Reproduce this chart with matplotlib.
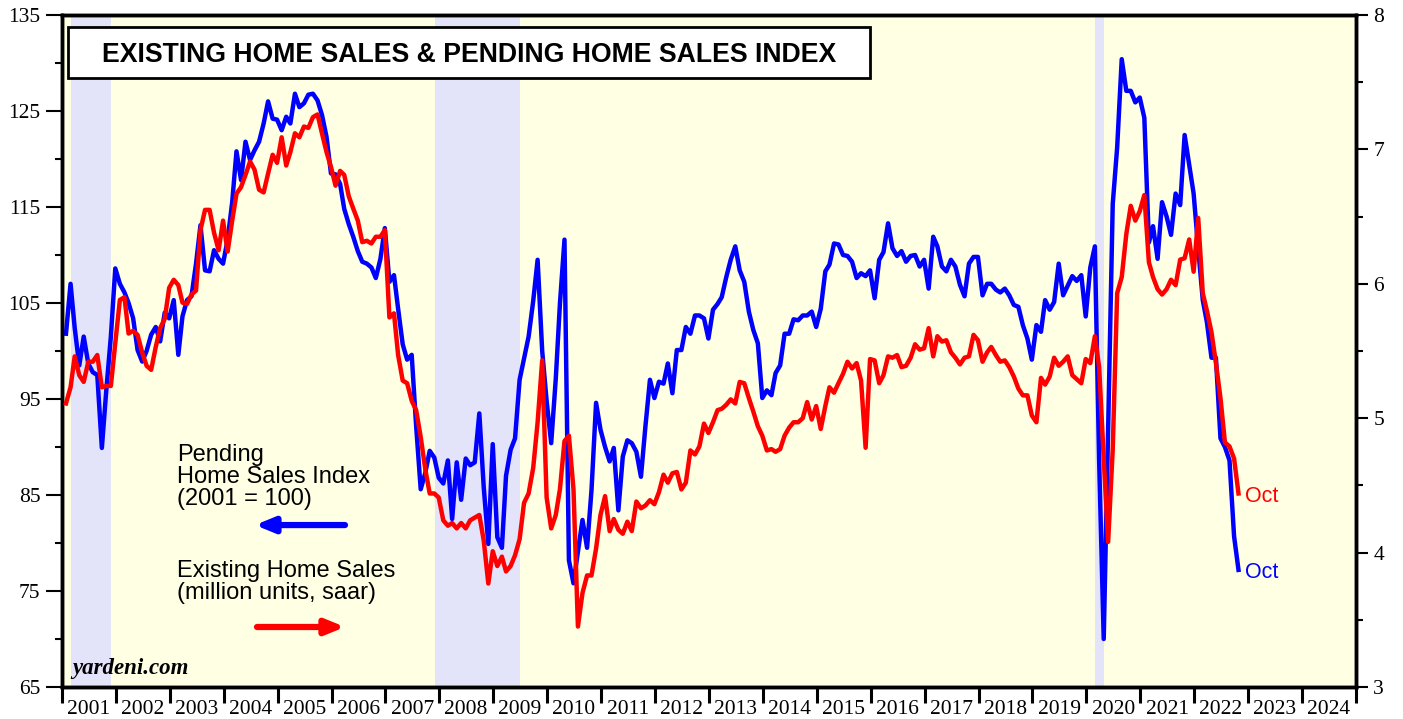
import numpy as np
import pandas as pd
import matplotlib
matplotlib.use('Agg')
import matplotlib.pyplot as plt
import matplotlib.dates as mdates
from matplotlib.patches import Rectangle
from matplotlib.ticker import FixedLocator, MultipleLocator, NullFormatter

# Pending home sales index (2001 = 100), monthly Jan 2001 - Oct 2022
pending = [
    101.8, 107.0, 102.4, 98.5, 101.5, 98.7, 97.8, 97.5, 89.9, 95.9, 101.5, 108.6,   # 2001
    107.0, 106.1, 105.0, 103.4, 100.1, 98.9, 100.0, 101.7, 102.5, 101.0, 104.0, 103.4,  # 2002
    105.3, 99.6, 103.6, 105.3, 105.7, 109.1, 113.1, 108.4, 108.3, 110.5, 109.6, 109.1,  # 2003
    111.6, 115.5, 120.8, 117.8, 121.8, 119.9, 120.9, 121.8, 123.7, 126.0, 124.2, 124.1,  # 2004
    123.0, 124.4, 123.7, 126.8, 125.4, 125.8, 126.7, 126.8, 126.1, 124.6, 122.3, 118.5,  # 2005
    118.4, 117.4, 114.8, 113.2, 111.9, 110.4, 109.3, 109.1, 108.7, 107.6, 109.6, 112.8,  # 2006
    107.2, 107.9, 104.4, 100.7, 99.1, 99.6, 92.2, 85.6, 87.3, 89.6, 88.9, 86.8,         # 2007
    86.2, 88.6, 82.5, 88.4, 84.5, 88.8, 88.1, 88.4, 93.5, 85.8, 79.9, 90.3,             # 2008
    80.6, 79.5, 87.0, 89.7, 90.9, 97.0, 99.2, 101.5, 105.2, 109.5, 100.0, 94.8,         # 2009
    90.4, 97.1, 104.9, 111.6, 78.2, 75.8, 79.1, 82.4, 79.5, 85.5, 94.6, 91.8,           # 2010
    90.0, 88.5, 89.9, 83.4, 89.0, 90.7, 90.4, 89.5, 86.9, 92.1, 97.0, 95.1,             # 2011
    96.8, 96.6, 98.7, 95.6, 100.1, 100.1, 102.5, 101.8, 103.7, 103.7, 103.4, 101.3,     # 2012
    104.3, 104.9, 105.6, 107.7, 109.5, 110.9, 108.4, 107.2, 104.1, 102.2, 100.8, 95.1,  # 2013
    95.9, 95.4, 97.7, 98.5, 101.8, 101.8, 103.3, 103.2, 103.7, 103.7, 104.1, 102.5,     # 2014
    104.4, 108.3, 109.0, 111.2, 111.1, 110.0, 109.9, 109.3, 107.6, 108.1, 107.8, 108.4, # 2015
    105.5, 109.5, 110.3, 113.3, 110.7, 109.9, 110.4, 109.3, 109.9, 110.0, 108.8, 109.5, # 2016
    106.5, 111.9, 110.9, 108.8, 108.3, 109.5, 108.8, 106.9, 105.7, 109.1, 109.8, 109.8, # 2017
    105.8, 107.0, 107.0, 106.4, 106.1, 106.5, 105.8, 104.8, 104.6, 102.7, 101.3, 99.1,  # 2018
    102.7, 102.0, 105.3, 104.3, 105.1, 109.1, 105.8, 106.8, 107.8, 107.3, 107.9, 103.6, # 2019
    108.7, 110.9, 88.5, 70.0, 92.0, 115.3, 121.2, 130.4, 127.1, 127.1, 125.9, 126.4,    # 2020
    124.3, 111.3, 113.0, 109.6, 115.5, 114.0, 112.1, 116.4, 115.2, 122.5, 119.4, 116.4, # 2021
    110.7, 105.3, 103.0, 99.3, 99.3, 90.9, 90.0, 88.6, 80.7, 77.2,                      # 2022
]

# Existing home sales (million units, saar)
existing = [
    5.11, 5.23, 5.46, 5.32, 5.27, 5.42, 5.42, 5.47, 5.23, 5.24, 5.24, 5.56,  # 2001
    5.88, 5.90, 5.63, 5.65, 5.62, 5.49, 5.39, 5.36, 5.53, 5.67, 5.74, 5.97,  # 2002
    6.03, 5.99, 5.86, 5.85, 5.92, 5.95, 6.40, 6.55, 6.55, 6.38, 6.25, 6.47,  # 2003
    6.24, 6.47, 6.67, 6.72, 6.81, 6.91, 6.85, 6.70, 6.68, 6.82, 6.96, 6.90,  # 2004
    7.09, 6.88, 6.98, 7.12, 7.09, 7.17, 7.16, 7.24, 7.26, 7.12, 6.98, 6.87,  # 2005
    6.73, 6.84, 6.81, 6.65, 6.56, 6.47, 6.31, 6.32, 6.30, 6.35, 6.35, 6.40,  # 2006
    5.75, 5.78, 5.47, 5.28, 5.26, 5.13, 5.06, 4.86, 4.62, 4.44, 4.44, 4.41,  # 2007
    4.24, 4.20, 4.22, 4.18, 4.22, 4.18, 4.24, 4.26, 4.28, 4.09, 3.77, 4.01,  # 2008
    3.90, 3.97, 3.86, 3.90, 3.98, 4.10, 4.37, 4.44, 4.63, 4.97, 5.43, 4.41,  # 2009
    4.18, 4.28, 4.47, 4.83, 4.87, 4.47, 3.45, 3.70, 3.83, 3.83, 4.03, 4.28,  # 2010
    4.42, 4.16, 4.25, 4.17, 4.14, 4.23, 4.16, 4.38, 4.33, 4.35, 4.39, 4.36,  # 2011
    4.45, 4.58, 4.52, 4.59, 4.60, 4.47, 4.52, 4.76, 4.73, 4.79, 4.96, 4.89,  # 2012
    4.97, 5.06, 5.07, 5.10, 5.14, 5.11, 5.27, 5.26, 5.15, 5.05, 4.94, 4.87,  # 2013
    4.76, 4.77, 4.75, 4.77, 4.87, 4.93, 4.97, 4.97, 5.00, 5.12, 4.99, 5.09,  # 2014
    4.92, 5.09, 5.23, 5.19, 5.26, 5.33, 5.42, 5.37, 5.41, 5.28, 4.78, 5.44,  # 2015
    5.43, 5.26, 5.32, 5.46, 5.45, 5.47, 5.38, 5.39, 5.45, 5.55, 5.51, 5.52,  # 2016
    5.67, 5.46, 5.61, 5.57, 5.58, 5.49, 5.45, 5.40, 5.45, 5.46, 5.62, 5.58,  # 2017
    5.42, 5.49, 5.53, 5.47, 5.42, 5.43, 5.38, 5.31, 5.22, 5.17, 5.17, 5.02,  # 2018
    4.97, 5.30, 5.25, 5.31, 5.45, 5.39, 5.42, 5.46, 5.32, 5.29, 5.26, 5.44,  # 2019
    5.41, 5.61, 5.38, 4.70, 4.08, 4.77, 5.93, 6.05, 6.37, 6.58, 6.47, 6.54,  # 2020
    6.66, 6.16, 6.05, 5.96, 5.92, 5.96, 6.03, 5.99, 6.18, 6.19, 6.33, 6.09,  # 2021
    6.49, 5.93, 5.80, 5.64, 5.41, 5.15, 4.82, 4.79, 4.70, 4.44,              # 2022
]

recessions = [('2001-03-01', '2001-11-30'),
              ('2007-12-01', '2009-06-30'),
              ('2020-03-01', '2020-04-30')]

left_ticks = [65, 75, 85, 95, 105, 115, 125, 135]
title = 'EXISTING HOME SALES & PENDING HOME SALES INDEX'
last_label = 'Oct'

months = pd.date_range('2001-01-01', periods=len(pending), freq='MS') + pd.Timedelta(days=27)

plt.rcParams['font.family'] = ['Liberation Sans', 'DejaVu Sans']

fig = plt.figure(figsize=(14.03, 7.19), dpi=100)
ax = fig.add_axes([62 / 1403, 32 / 719, 1294 / 1403, 672 / 719])
ax.set_facecolor('#FFFFE3')

for start, end in recessions:
    ax.axvspan(pd.Timestamp(start), pd.Timestamp(end), color='#E3E3FA', lw=0, zorder=0)

ax.plot(months, pending, color='#0000FF', lw=3.2, solid_joinstyle='round', zorder=3)
ax.set_xlim(pd.Timestamp('2001-01-01'), pd.Timestamp('2025-01-01'))
ax.set_ylim(65, 135)

ax2 = ax.twinx()
ax2.plot(months, existing, color='#FF0000', lw=3.2, solid_joinstyle='round', zorder=3)
ax2.set_ylim(3, 8)

# x axis: ticks at year boundaries, labels centred in each year
ax.xaxis.set_major_locator(mdates.YearLocator())
ax.xaxis.set_major_formatter(NullFormatter())
ax.xaxis.set_minor_locator(mdates.MonthLocator(bymonth=7, bymonthday=1))
ax.xaxis.set_minor_formatter(mdates.DateFormatter('%Y'))
ax.tick_params(axis='x', which='major', direction='out', length=11.5, width=2.2)
ax.tick_params(axis='x', which='minor', length=0, pad=9, labelsize=15.5)

ax.yaxis.set_major_locator(FixedLocator(left_ticks))
ax.yaxis.set_minor_locator(MultipleLocator(10))
ax.tick_params(axis='y', which='major', direction='out', length=11.5, width=1.5, labelsize=15.5, pad=4)
ax.tick_params(axis='y', which='minor', direction='out', length=5, width=1.5)

ax2.yaxis.set_major_locator(MultipleLocator(1))
ax2.yaxis.set_minor_locator(MultipleLocator(0.5))
ax2.tick_params(axis='y', which='major', direction='out', length=8.5, width=1.5, labelsize=15.5, pad=4)
ax2.tick_params(axis='y', which='minor', direction='out', length=5, width=1.5)

for a in (ax, ax2):
    for lab in a.get_xticklabels(which='both') + a.get_yticklabels():
        lab.set_family('Liberation Serif')
    for s in a.spines.values():
        s.set_linewidth(2.5)

# title box
ax.add_patch(Rectangle((0.0046, 0.906), 0.62, 0.076, transform=ax.transAxes,
                       facecolor='white', edgecolor='black', lw=2, zorder=5))
ax2.text(0.3149, 0.941, title, transform=ax.transAxes, ha='center', va='center',
         fontsize=19.2, fontweight='bold', zorder=6)

# legend texts and arrows
ax2.text(0.0889, 0.362, 'Pending\nHome Sales Index\n(2001 = 100)', transform=ax.transAxes,
         ha='left', va='top', fontsize=17, linespacing=1.02)
ax2.annotate('', xy=(0.1491, 0.241), xytext=(0.2187, 0.241), xycoords=ax.transAxes,
             textcoords=ax.transAxes,
             arrowprops=dict(arrowstyle='-|>,head_length=1.1,head_width=0.45', color='#0000FF',
                             lw=4.5, shrinkA=0, shrinkB=0))
ax2.text(0.0889, 0.189, 'Existing Home Sales\n(million units, saar)', transform=ax.transAxes,
         ha='left', va='top', fontsize=17, linespacing=1.02)
ax2.annotate('', xy=(0.2187, 0.0893), xytext=(0.1507, 0.0893), xycoords=ax.transAxes,
             textcoords=ax.transAxes,
             arrowprops=dict(arrowstyle='-|>,head_length=1.1,head_width=0.45', color='#FF0000',
                             lw=4.5, shrinkA=0, shrinkB=0))

ax2.text(0.0077, 0.012, 'yardeni.com', transform=ax.transAxes, ha='left', va='bottom',
         fontsize=16.5, fontweight='bold', fontstyle='italic', family='Liberation Serif')

# end labels
ax.annotate(last_label, xy=(months[-1], pending[-1]), xytext=(5, -2), textcoords='offset points',
            ha='left', va='center', color='#0000FF', fontsize=15.5)
ax2.annotate(last_label, xy=(months[-1], existing[-1]), xytext=(5, -2), textcoords='offset points',
             ha='left', va='center', color='#FF0000', fontsize=15.5)

plt.savefig('out.png', dpi=100)
